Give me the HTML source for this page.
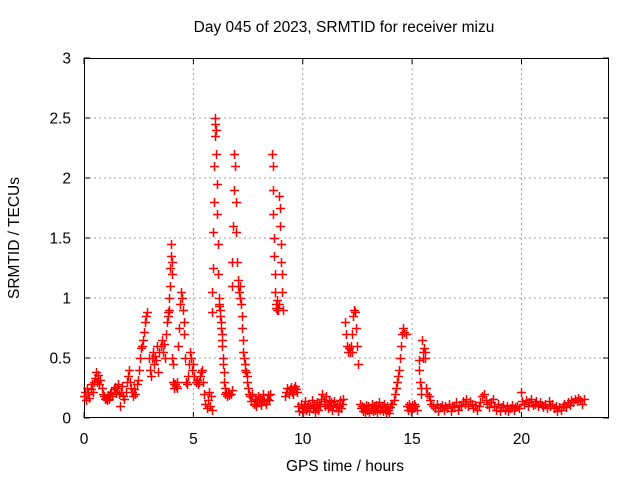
<!DOCTYPE html>
<html><head><meta charset="utf-8"><style>
html,body{margin:0;padding:0;background:#fff;}
svg{display:block;font-family:"Liberation Sans",sans-serif;}
</style></head><body>
<svg id="chart" width="640" height="480" viewBox="0 0 640 480" xmlns="http://www.w3.org/2000/svg">
<rect width="640" height="480" fill="#fff"/>
<text x="344" y="32" font-size="15.5" text-anchor="middle" fill="#000">Day 045 of 2023, SRMTID for receiver mizu</text>
<text x="345" y="471" font-size="15.5" text-anchor="middle" fill="#000">GPS time / hours</text>
<text x="0" y="0" font-size="15.5" text-anchor="middle" fill="#000" transform="translate(19,238) rotate(-90)">SRMTID / TECUs</text>
<g id="grid"></g><g id="axes"></g><g id="marks"></g>
</svg>
<script>
const xTicks=[0,5,10,15,20];
const yTicks=[0,0.5,1,1.5,2,2.5,3];
const yTickLabels=["0","0.5","1","1.5","2","2.5","3"];
const segStart=[0,3.8,4.15,4.75,5.5,5.85,6.45,6.75,7.6,8.6,8.92,9.2,9.8,11.95,12.6,14.1,14.75,15.3,15.65,15.8];
const segStep=[0.05,0.02,0.04,0.05,0.05,0.02,0.05,0.03,0.05,0.02,0.025,0.05,0.05,0.04,0.05,0.05,0.05,0.03,0.05,0.08];
const seg0=[0.18,0.22,0.15,0.25,0.2,0.17,0.24,0.28,0.22,0.3,0.33,0.38,0.3,0.36,0.28,0.32,0.25,0.2,0.18,0.16,0.17,0.15,0.19,0.16,0.2,0.22,0.18,0.24,0.26,0.21,0.25,0.28,0.2,0.1,0.22,0.27,0.18,0.16,0.22,0.3,0.35,0.4,0.3,0.25,0.22,0.18,0.24,0.2,0.28,0.32,0.4,0.5,0.58,0.6,0.65,0.72,0.8,0.85,0.88,0.5,0.4,0.35,0.5,0.55,0.45,0.52,0.48,0.6,0.38,0.55,0.6,0.65,0.55,0.62,0.5,0.7];
const seg1=[0.8,0.85,0.88,0.85,0.9,1.0,1.1,1.25,1.35,1.45,1.3,1.2,0.5,0.45,0.3,0.28,0.25];
const seg2=[0.28,0.27,0.3,0.25,0.6,0.75,0.95,1.05,1.0,0.9,0.8,0.7,0.5,0.3,0.28];
const seg3=[0.35,0.45,0.55,0.5,0.4,0.45,0.35,0.3,0.32,0.28,0.3,0.35,0.38,0.4,0.3];
const seg4=[0.2,0.12,0.08,0.15,0.22,0.1,0.18,0.07];
const seg5=[0.88,1.05,1.25,1.55,1.8,2.1,2.35,2.45,2.5,2.4,2.2,1.95,1.7,1.45,1.2,1.0,0.95,0.93,0.9,0.85,0.8,0.75,0.7,0.65,0.6,0.5,0.45,0.38,0.3,0.25,0.2];
const seg6=[0.2,0.22,0.18,0.21,0.19,0.2,0.23];
const seg7=[1.1,1.3,1.6,1.9,2.2,2.1,1.8,1.55,1.3,1.15,1.1,1.05,1.1,1.0,0.95,0.85,0.75,0.65,0.55,0.5,0.45,0.4,0.38,0.35,0.3,0.25,0.2];
const seg8=[0.18,0.14,0.2,0.12,0.16,0.1,0.15,0.18,0.13,0.17,0.11,0.15,0.2,0.14,0.12,0.16,0.19,0.15,0.2];
const seg9=[2.2,2.1,1.9,1.7,1.5,1.35,1.2,1.05,0.95,0.92,0.9,0.95,0.98,0.92,0.9,0.95];
const seg10=[1.85,1.75,1.6,1.45,1.3,1.2,1.05,0.9];
const seg11=[0.18,0.22,0.25,0.2,0.24,0.26,0.22,0.2,0.25,0.27,0.24,0.22];
const seg12=[0.1,0.06,0.12,0.08,0.05,0.1,0.14,0.07,0.09,0.12,0.06,0.1,0.15,0.08,0.11,0.05,0.09,0.13,0.07,0.12,0.1,0.16,0.2,0.14,0.1,0.18,0.12,0.08,0.15,0.1,0.13,0.07,0.11,0.14,0.09,0.12,0.06,0.1,0.15,0.08,0.12,0.16];
const seg13=[0.8,0.7,0.6,0.55,0.58,0.55,0.6,0.55,0.7,0.85,0.9,0.88,0.75,0.6,0.45];
const seg14=[0.12,0.08,0.1,0.06,0.09,0.05,0.11,0.07,0.1,0.04,0.08,0.12,0.06,0.1,0.07,0.11,0.05,0.09,0.13,0.07,0.1,0.06,0.12,0.08,0.05,0.1,0.07,0.04,0.09,0.12];
const seg15=[0.12,0.15,0.2,0.25,0.3,0.35,0.4,0.5,0.6,0.7,0.75,0.72,0.7];
const seg16=[0.1,0.07,0.12,0.09,0.06,0.11,0.08,0.12,0.1,0.07];
const seg17=[0.48,0.4,0.3,0.25,0.2,0.65,0.55,0.5,0.58,0.55,0.5];
const seg18=[0.25,0.2,0.18];
const seg19=[0.15,0.12,0.1,0.08,0.12,0.06,0.09,0.11,0.07,0.1,0.08,0.12,0.06,0.1,0.09,0.13,0.07,0.11,0.1,0.14,0.12,0.16,0.1,0.14,0.12,0.08,0.11,0.07,0.1,0.13,0.18,0.2,0.15,0.12,0.09,0.13,0.16,0.1,0.07,0.12,0.06,0.09,0.11,0.07,0.1,0.06,0.08,0.11,0.07,0.09,0.1,0.08,0.22,0.14,0.12,0.15,0.1,0.13,0.16,0.11,0.12,0.14,0.1,0.13,0.11,0.09,0.12,0.08,0.14,0.1,0.12,0.08,0.1,0.06,0.09,0.07,0.1,0.12,0.09,0.13,0.11,0.15,0.13,0.16,0.14,0.17,0.15,0.12,0.16];
const segValues=[seg0,seg1,seg2,seg3,seg4,seg5,seg6,seg7,seg8,seg9,seg10,seg11,seg12,seg13,seg14,seg15,seg16,seg17,seg18,seg19];

const L=84,R=609,T=58,B=418,XMAX=24,YMAX=3;
const xs=v=>L+(R-L)*v/XMAX;
const ys=v=>B-(B-T)*v/YMAX;
const NS="http://www.w3.org/2000/svg";
function mk(tag,attrs,parent){const e=document.createElementNS(NS,tag);for(const k in attrs)e.setAttribute(k,attrs[k]);parent.appendChild(e);return e;}
const grid=document.getElementById('grid'),axes=document.getElementById('axes'),marks=document.getElementById('marks');
xTicks.forEach(t=>{
  const x=xs(t);
  if(t>0){const g=mk('line',{x1:x,x2:x,y1:T,y2:B,stroke:'#a0a0a0','stroke-dasharray':'2,3','stroke-width':1},grid);
  
  }
  mk('line',{x1:x,x2:x,y1:B,y2:B-6,stroke:'#000'},axes);
  mk('line',{x1:x,x2:x,y1:T,y2:T+6,stroke:'#000'},axes);
  const lb=mk('text',{x:x,y:B+26,'font-size':15.5,'text-anchor':'middle',fill:'#000'},axes);
  lb.textContent=String(t);
  
  
});
yTicks.forEach((t,i)=>{
  const y=ys(t);
  if(t>0&&t<YMAX){const g=mk('line',{x1:L,x2:R,y1:y,y2:y,stroke:'#a0a0a0','stroke-dasharray':'2,3','stroke-width':1},grid);
  
  }
  mk('line',{x1:L,x2:L+6,y1:y,y2:y,stroke:'#000'},axes);
  mk('line',{x1:R,x2:R-6,y1:y,y2:y,stroke:'#000'},axes);
  const lb=mk('text',{x:L-13,y:y+5.5,'font-size':15.5,'text-anchor':'end',fill:'#000'},axes);
  lb.textContent=yTickLabels[i];
  
  
});
const frame=mk('rect',{x:L+0.5,y:T+0.5,width:R-L-1,height:B-T-1,fill:'none',stroke:'#000'},axes);


let d='';
segValues.forEach((vals,si)=>{
  vals.forEach((v,j)=>{
    const x=Math.round(xs(segStart[si]+segStep[si]*j))+0.5,y=Math.round(ys(v))+0.5;
    d+=`M${x-4.5} ${y}H${x+4.5}M${x} ${y-4.5}V${y+4.5}`;
  });
});
const p=mk('path',{d:d,stroke:'#ff0000','stroke-width':1.5,fill:'none'},marks);


</script>
</body></html>
